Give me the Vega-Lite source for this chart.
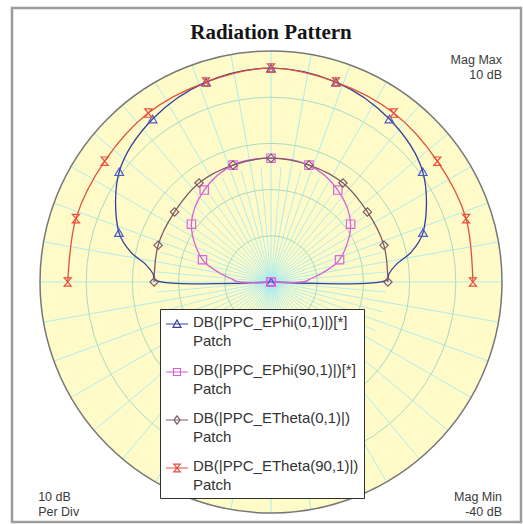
{
"$schema":"https://vega.github.io/schema/vega-lite/v6.json",
"width":509,"height":514,"autosize":"none",
"padding":{"left":12,"top":8,"right":2,"bottom":2},
"background":"white",
"view":{"stroke":"#9c9c9c","strokeWidth":2.5},
"datasets":{
 "one":[{}],
 "rings":[{"db":-30},{"db":-20},{"db":-10},{"db":0}],
 "edge":[{"db":10}],
 "majorSpokes":[{"angle":0},{"angle":10},{"angle":20},{"angle":30},{"angle":40},{"angle":50},{"angle":60},{"angle":70},{"angle":80},{"angle":90},{"angle":100},{"angle":110},{"angle":120},{"angle":130},{"angle":140},{"angle":150},{"angle":160},{"angle":170},{"angle":180},{"angle":190},{"angle":200},{"angle":210},{"angle":220},{"angle":230},{"angle":240},{"angle":250},{"angle":260},{"angle":270},{"angle":280},{"angle":290},{"angle":300},{"angle":310},{"angle":320},{"angle":330},{"angle":340},{"angle":350}],
 "minorSpokes":[{"angle":5},{"angle":15},{"angle":25},{"angle":35},{"angle":45},{"angle":55},{"angle":65},{"angle":75},{"angle":85},{"angle":95},{"angle":105},{"angle":115},{"angle":125},{"angle":135},{"angle":145},{"angle":155},{"angle":165},{"angle":175},{"angle":185},{"angle":195},{"angle":205},{"angle":215},{"angle":225},{"angle":235},{"angle":245},{"angle":255},{"angle":265},{"angle":275},{"angle":285},{"angle":295},{"angle":305},{"angle":315},{"angle":325},{"angle":335},{"angle":345},{"angle":355}],
 "pattern":[
  {"trace":"DB(|PPC_EPhi(0,1)|)[*]","angle":-90,"db":-40},
  {"trace":"DB(|PPC_EPhi(0,1)|)[*]","angle":-89,"db":-14.9},
  {"trace":"DB(|PPC_EPhi(0,1)|)[*]","angle":-86,"db":-14.4},
  {"trace":"DB(|PPC_EPhi(0,1)|)[*]","angle":-82,"db":-12.6},
  {"trace":"DB(|PPC_EPhi(0,1)|)[*]","angle":-78,"db":-9.0},
  {"trace":"DB(|PPC_EPhi(0,1)|)[*]","angle":-72,"db":-5.4},
  {"trace":"DB(|PPC_EPhi(0,1)|)[*]","angle":-54,"db":0.6},
  {"trace":"DB(|PPC_EPhi(0,1)|)[*]","angle":-36,"db":3.6},
  {"trace":"DB(|PPC_EPhi(0,1)|)[*]","angle":-18,"db":5.5},
  {"trace":"DB(|PPC_EPhi(0,1)|)[*]","angle":0,"db":6.3},
  {"trace":"DB(|PPC_EPhi(0,1)|)[*]","angle":18,"db":5.5},
  {"trace":"DB(|PPC_EPhi(0,1)|)[*]","angle":36,"db":3.6},
  {"trace":"DB(|PPC_EPhi(0,1)|)[*]","angle":54,"db":0.6},
  {"trace":"DB(|PPC_EPhi(0,1)|)[*]","angle":72,"db":-5.4},
  {"trace":"DB(|PPC_EPhi(0,1)|)[*]","angle":78,"db":-9.0},
  {"trace":"DB(|PPC_EPhi(0,1)|)[*]","angle":82,"db":-12.6},
  {"trace":"DB(|PPC_EPhi(0,1)|)[*]","angle":86,"db":-14.4},
  {"trace":"DB(|PPC_EPhi(0,1)|)[*]","angle":89,"db":-14.9},
  {"trace":"DB(|PPC_EPhi(0,1)|)[*]","angle":90,"db":-40},
  {"trace":"DB(|PPC_EPhi(90,1)|)[*]","angle":-90,"db":-40},
  {"trace":"DB(|PPC_EPhi(90,1)|)[*]","angle":-89,"db":-32.6},
  {"trace":"DB(|PPC_EPhi(90,1)|)[*]","angle":-85,"db":-31.3},
  {"trace":"DB(|PPC_EPhi(90,1)|)[*]","angle":-80,"db":-28.7},
  {"trace":"DB(|PPC_EPhi(90,1)|)[*]","angle":-72,"db":-24.4},
  {"trace":"DB(|PPC_EPhi(90,1)|)[*]","angle":-54,"db":-18.7},
  {"trace":"DB(|PPC_EPhi(90,1)|)[*]","angle":-36,"db":-15.4},
  {"trace":"DB(|PPC_EPhi(90,1)|)[*]","angle":-18,"db":-13.4},
  {"trace":"DB(|PPC_EPhi(90,1)|)[*]","angle":0,"db":-13.2},
  {"trace":"DB(|PPC_EPhi(90,1)|)[*]","angle":18,"db":-13.4},
  {"trace":"DB(|PPC_EPhi(90,1)|)[*]","angle":36,"db":-15.4},
  {"trace":"DB(|PPC_EPhi(90,1)|)[*]","angle":54,"db":-18.7},
  {"trace":"DB(|PPC_EPhi(90,1)|)[*]","angle":72,"db":-24.4},
  {"trace":"DB(|PPC_EPhi(90,1)|)[*]","angle":80,"db":-28.7},
  {"trace":"DB(|PPC_EPhi(90,1)|)[*]","angle":85,"db":-31.3},
  {"trace":"DB(|PPC_EPhi(90,1)|)[*]","angle":89,"db":-32.6},
  {"trace":"DB(|PPC_EPhi(90,1)|)[*]","angle":90,"db":-40},
  {"trace":"DB(|PPC_ETheta(0,1)|)","angle":-90,"db":-14.7},
  {"trace":"DB(|PPC_ETheta(0,1)|)","angle":-72,"db":-14.3},
  {"trace":"DB(|PPC_ETheta(0,1)|)","angle":-54,"db":-14.2},
  {"trace":"DB(|PPC_ETheta(0,1)|)","angle":-36,"db":-13.5},
  {"trace":"DB(|PPC_ETheta(0,1)|)","angle":-18,"db":-13.4},
  {"trace":"DB(|PPC_ETheta(0,1)|)","angle":0,"db":-13.2},
  {"trace":"DB(|PPC_ETheta(0,1)|)","angle":18,"db":-13.4},
  {"trace":"DB(|PPC_ETheta(0,1)|)","angle":36,"db":-13.5},
  {"trace":"DB(|PPC_ETheta(0,1)|)","angle":54,"db":-14.2},
  {"trace":"DB(|PPC_ETheta(0,1)|)","angle":72,"db":-14.3},
  {"trace":"DB(|PPC_ETheta(0,1)|)","angle":90,"db":-14.7},
  {"trace":"DB(|PPC_ETheta(90,1)|)","angle":-90,"db":4.0},
  {"trace":"DB(|PPC_ETheta(90,1)|)","angle":-72,"db":4.4},
  {"trace":"DB(|PPC_ETheta(90,1)|)","angle":-54,"db":4.5},
  {"trace":"DB(|PPC_ETheta(90,1)|)","angle":-36,"db":5.2},
  {"trace":"DB(|PPC_ETheta(90,1)|)","angle":-18,"db":5.5},
  {"trace":"DB(|PPC_ETheta(90,1)|)","angle":0,"db":6.3},
  {"trace":"DB(|PPC_ETheta(90,1)|)","angle":18,"db":5.5},
  {"trace":"DB(|PPC_ETheta(90,1)|)","angle":36,"db":5.2},
  {"trace":"DB(|PPC_ETheta(90,1)|)","angle":54,"db":4.5},
  {"trace":"DB(|PPC_ETheta(90,1)|)","angle":72,"db":4.4},
  {"trace":"DB(|PPC_ETheta(90,1)|)","angle":90,"db":3.7}
 ]
},
"layer":[
 {"data":{"name":"edge"},
  "mark":{"type":"arc","theta":0,"theta2":6.2832,"fill":"#fffbc8","stroke":null},
  "encoding":{
   "x":{"datum":0,"type":"quantitative","scale":{"domain":[-56.06,54.11],"nice":false,"zero":false},"axis":null},
   "y":{"datum":0,"type":"quantitative","scale":{"domain":[-51.95,59.31],"nice":false,"zero":false},"axis":null},
   "radius":{"field":"db","type":"quantitative","stack":null,"scale":{"type":"linear","domain":[-40,10],"range":[0,231],"zero":false}},
   "radius2":{"datum":-40}}},
 {"data":{"name":"minorSpokes"},
  "transform":[{"calculate":"25*sin(datum.angle*PI/180)","as":"ex"},{"calculate":"25*cos(datum.angle*PI/180)","as":"ey"},{"calculate":"0","as":"zx"}],
  "mark":{"type":"rule","color":"#a6eaf2","strokeWidth":0.8},
  "encoding":{
   "x":{"field":"zx","type":"quantitative","scale":{"domain":[-56.06,54.11],"nice":false,"zero":false},"axis":null},
   "y":{"field":"zx","type":"quantitative","scale":{"domain":[-51.95,59.31],"nice":false,"zero":false},"axis":null},
   "x2":{"field":"ex"},"y2":{"field":"ey"}}},
 {"data":{"name":"majorSpokes"},
  "transform":[{"calculate":"50*sin(datum.angle*PI/180)","as":"ex"},{"calculate":"50*cos(datum.angle*PI/180)","as":"ey"},{"calculate":"0","as":"zx"}],
  "mark":{"type":"rule","color":"#a6eaf2","strokeWidth":0.9},
  "encoding":{
   "x":{"field":"zx","type":"quantitative","scale":{"domain":[-56.06,54.11],"nice":false,"zero":false},"axis":null},
   "y":{"field":"zx","type":"quantitative","scale":{"domain":[-51.95,59.31],"nice":false,"zero":false},"axis":null},
   "x2":{"field":"ex"},"y2":{"field":"ey"}}},
 {"data":{"name":"rings"},
  "mark":{"type":"arc","theta":0,"theta2":6.2832,"fillOpacity":0,"stroke":"#a8dcc0","strokeWidth":1},
  "encoding":{
   "x":{"datum":0,"type":"quantitative","scale":{"domain":[-56.06,54.11],"nice":false,"zero":false},"axis":null},
   "y":{"datum":0,"type":"quantitative","scale":{"domain":[-51.95,59.31],"nice":false,"zero":false},"axis":null},
   "radius":{"field":"db","type":"quantitative","stack":null,"scale":{"type":"linear","domain":[-40,10],"range":[0,231],"zero":false}},
   "radius2":{"datum":-40}}},
 {"data":{"name":"edge"},
  "mark":{"type":"arc","theta":0,"theta2":6.2832,"fillOpacity":0,"stroke":"#777777","strokeWidth":1.5},
  "encoding":{
   "x":{"datum":0,"type":"quantitative","scale":{"domain":[-56.06,54.11],"nice":false,"zero":false},"axis":null},
   "y":{"datum":0,"type":"quantitative","scale":{"domain":[-51.95,59.31],"nice":false,"zero":false},"axis":null},
   "radius":{"field":"db","type":"quantitative","stack":null,"scale":{"type":"linear","domain":[-40,10],"range":[0,231],"zero":false}},
   "radius2":{"datum":-40}}},
 {"data":{"name":"pattern"},
  "transform":[{"calculate":"max(datum.db+40,0)","as":"rr"},{"calculate":"datum.rr*sin(datum.angle*PI/180)","as":"px"},{"calculate":"datum.rr*cos(datum.angle*PI/180)","as":"py"}],
  "mark":{"type":"line","strokeWidth":1.3,"interpolate":"catmull-rom"},
  "encoding":{
   "x":{"field":"px","type":"quantitative","scale":{"domain":[-56.06,54.11],"nice":false,"zero":false},"axis":null},
   "y":{"field":"py","type":"quantitative","scale":{"domain":[-51.95,59.31],"nice":false,"zero":false},"axis":null},
   "order":{"field":"angle","type":"quantitative"},
   "color":{"field":"trace","type":"nominal",
    "scale":{"domain":["DB(|PPC_EPhi(0,1)|)[*]","DB(|PPC_EPhi(90,1)|)[*]","DB(|PPC_ETheta(0,1)|)","DB(|PPC_ETheta(90,1)|)"],"range":["#34409e","#d65fd6","#7d5a68","#e2503c"]},
    "legend":{"title":null,"orient":"none","legendX":148,"legendY":301,"fillColor":"white","strokeColor":"#303030","padding":5,"symbolSize":484,"symbolStrokeWidth":1.2,"labelFont":"Liberation Sans","labelFontSize":15,"labelColor":"#333333","labelLimit":300,"labelOffset":4,"rowPadding":13,"labelBaseline":"alphabetic","labelExpr":"[datum.label, 'Patch']",
     "encode":{"symbols":{"update":{"shape":{"signal":"datum.value == 'DB(|PPC_EPhi(0,1)|)[*]' ? 'M-1,0H1M0,-0.36L0.36,0.3H-0.36Z' : datum.value == 'DB(|PPC_EPhi(90,1)|)[*]' ? 'M-1,0H1M-0.32,-0.32H0.32V0.32H-0.32Z' : datum.value == 'DB(|PPC_ETheta(0,1)|)' ? 'M-1,0H1M0,-0.38L0.28,0L0,0.38L-0.28,0Z' : 'M-1,0H1M-0.3,-0.36H0.3L-0.3,0.36H0.3Z'"},"fill":{"value":"transparent"},"y":{"value":10}}},
      "labels":{"update":{"lineHeight":{"value":19},"y":{"value":13}}}}}}}},
 {"data":{"name":"pattern"},
  "transform":[{"filter":"datum.angle % 18 == 0 && datum.trace == 'DB(|PPC_EPhi(0,1)|)[*]'"},{"calculate":"max(datum.db+40,0)","as":"rr"},{"calculate":"datum.rr*sin(datum.angle*PI/180)","as":"px"},{"calculate":"datum.rr*cos(datum.angle*PI/180)","as":"py"}],
  "mark":{"type":"point","filled":false,"shape":"triangle-up","color":"#4a5ad0","strokeWidth":1.2,"size":75,"opacity":1},
  "encoding":{
   "x":{"field":"px","type":"quantitative","scale":{"domain":[-56.06,54.11],"nice":false,"zero":false},"axis":null},
   "y":{"field":"py","type":"quantitative","scale":{"domain":[-51.95,59.31],"nice":false,"zero":false},"axis":null}}},
 {"data":{"name":"pattern"},
  "transform":[{"filter":"datum.angle % 18 == 0 && datum.trace == 'DB(|PPC_EPhi(90,1)|)[*]'"},{"calculate":"max(datum.db+40,0)","as":"rr"},{"calculate":"datum.rr*sin(datum.angle*PI/180)","as":"px"},{"calculate":"datum.rr*cos(datum.angle*PI/180)","as":"py"}],
  "mark":{"type":"point","filled":false,"shape":"square","color":"#e064e0","strokeWidth":1.2,"size":70,"opacity":1},
  "encoding":{
   "x":{"field":"px","type":"quantitative","scale":{"domain":[-56.06,54.11],"nice":false,"zero":false},"axis":null},
   "y":{"field":"py","type":"quantitative","scale":{"domain":[-51.95,59.31],"nice":false,"zero":false},"axis":null}}},
 {"data":{"name":"pattern"},
  "transform":[{"filter":"datum.angle % 18 == 0 && datum.trace == 'DB(|PPC_ETheta(0,1)|)'"},{"calculate":"max(datum.db+40,0)","as":"rr"},{"calculate":"datum.rr*sin(datum.angle*PI/180)","as":"px"},{"calculate":"datum.rr*cos(datum.angle*PI/180)","as":"py"}],
  "mark":{"type":"point","filled":false,"shape":"diamond","color":"#7d5a68","strokeWidth":1.2,"size":70,"opacity":1},
  "encoding":{
   "x":{"field":"px","type":"quantitative","scale":{"domain":[-56.06,54.11],"nice":false,"zero":false},"axis":null},
   "y":{"field":"py","type":"quantitative","scale":{"domain":[-51.95,59.31],"nice":false,"zero":false},"axis":null}}},
 {"data":{"name":"pattern"},
  "transform":[{"filter":"datum.angle % 18 == 0 && datum.trace == 'DB(|PPC_ETheta(90,1)|)'"},{"calculate":"max(datum.db+40,0)","as":"rr"},{"calculate":"datum.rr*sin(datum.angle*PI/180)","as":"px"},{"calculate":"datum.rr*cos(datum.angle*PI/180)","as":"py"}],
  "mark":{"type":"point","filled":false,"shape":"M-0.85,-1H0.85L-0.85,1H0.85Z","color":"#e8503c","strokeWidth":1.2,"size":70,"opacity":1},
  "encoding":{
   "x":{"field":"px","type":"quantitative","scale":{"domain":[-56.06,54.11],"nice":false,"zero":false},"axis":null},
   "y":{"field":"py","type":"quantitative","scale":{"domain":[-51.95,59.31],"nice":false,"zero":false},"axis":null}}},
 {"data":{"name":"one"},
  "mark":{"type":"text","font":"Liberation Serif","fontSize":21,"fontWeight":"bold","color":"#151515","align":"center","baseline":"alphabetic"},
  "encoding":{
   "x":{"datum":0,"type":"quantitative","scale":{"domain":[-56.06,54.11],"nice":false,"zero":false},"axis":null},
   "y":{"datum":52.6,"type":"quantitative","scale":{"domain":[-51.95,59.31],"nice":false,"zero":false},"axis":null},
   "text":{"value":"Radiation Pattern"}}},
 {"data":{"name":"one"},
  "mark":{"type":"text","font":"Liberation Sans","fontSize":12.5,"color":"#3a3a3a","align":"right","baseline":"alphabetic","lineHeight":15},
  "encoding":{
   "x":{"datum":50,"type":"quantitative","scale":{"domain":[-56.06,54.11],"nice":false,"zero":false},"axis":null},
   "y":{"datum":47.2,"type":"quantitative","scale":{"domain":[-51.95,59.31],"nice":false,"zero":false},"axis":null},
   "text":{"value":["Mag Max","10 dB"]}}},
 {"data":{"name":"one"},
  "mark":{"type":"text","font":"Liberation Sans","fontSize":12.5,"color":"#3a3a3a","align":"left","baseline":"alphabetic","lineHeight":15},
  "encoding":{
   "x":{"datum":-50.4,"type":"quantitative","scale":{"domain":[-56.06,54.11],"nice":false,"zero":false},"axis":null},
   "y":{"datum":-47.4,"type":"quantitative","scale":{"domain":[-51.95,59.31],"nice":false,"zero":false},"axis":null},
   "text":{"value":["10 dB","Per Div"]}}},
 {"data":{"name":"one"},
  "mark":{"type":"text","font":"Liberation Sans","fontSize":12.5,"color":"#3a3a3a","align":"right","baseline":"alphabetic","lineHeight":15},
  "encoding":{
   "x":{"datum":50,"type":"quantitative","scale":{"domain":[-56.06,54.11],"nice":false,"zero":false},"axis":null},
   "y":{"datum":-47.4,"type":"quantitative","scale":{"domain":[-51.95,59.31],"nice":false,"zero":false},"axis":null},
   "text":{"value":["Mag Min","-40 dB"]}}}
]
}
